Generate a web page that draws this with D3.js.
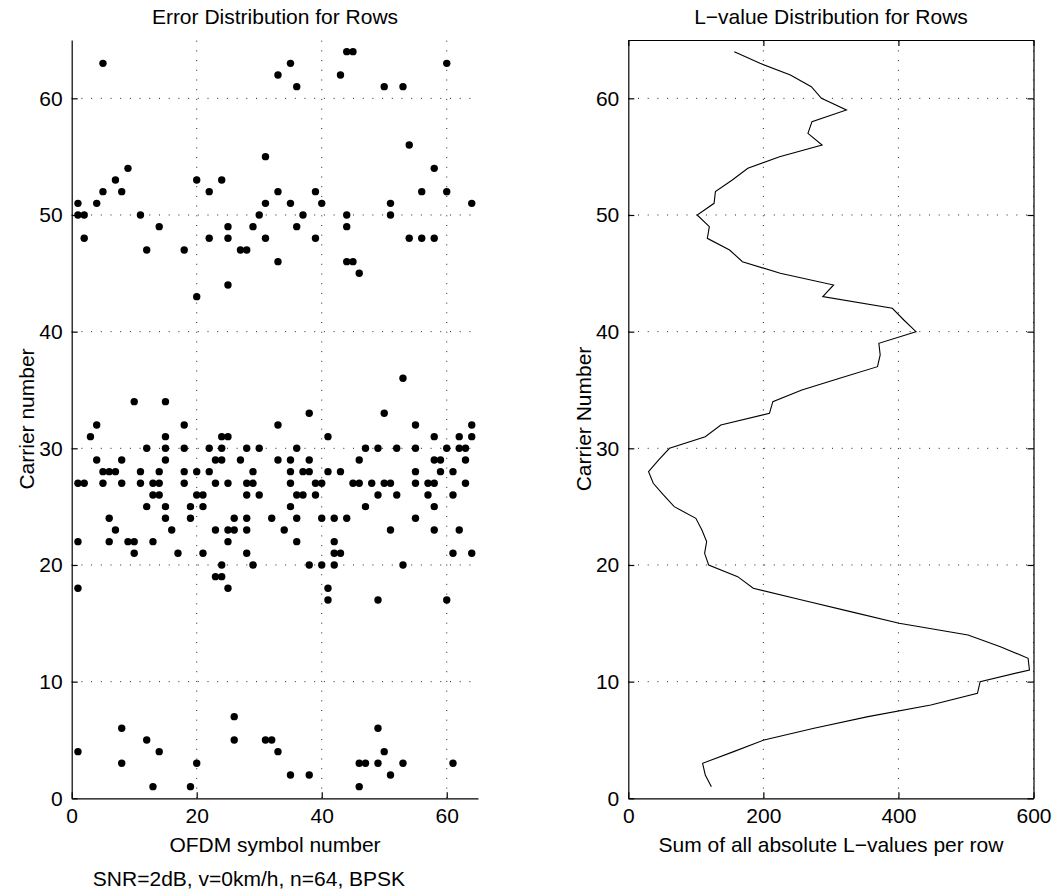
<!DOCTYPE html>
<html>
<head>
<meta charset="utf-8">
<script src="https://cdn.jsdelivr.net/npm/d3@7"></script>
<style>
  body { margin: 0; background: #fff; }
  text { font-family: "Liberation Sans", Arial, Helvetica, sans-serif; fill: #000; }
  .grid line { stroke: #222; stroke-width: 1; stroke-dasharray: 1,8.7; }
  .axis path, .axis line { stroke: #000; stroke-width: 1.2; }
</style>
</head>
<body>
<div id="chart"></div>
<script>
// Errors: [OFDM symbol number, carrier number]
var errorPoints = [
  [5,63],[1,51],[1,50],[2,50],[2,48],[4,51],[5,52],[7,53],[8,52],[9,54],[11,50],[12,47],[14,49],[18,47],
  [20,53],[22,52],[22,48],[24,53],[25,49],[25,48],[27,47],[28,47],[29,49],[30,50],[31,51],[31,55],[31,48],
  [33,62],[33,52],[33,46],
  [44,64],[45,64],[35,63],[36,61],[43,62],[50,61],[53,61],[60,63],[54,56],[58,54],[39,52],[56,52],[60,52],
  [35,51],[40,51],[51,51],[64,51],[37,50],[44,50],[51,50],[36,49],[44,49],[39,48],[54,48],[56,48],[58,48],
  [44,46],[45,46],[46,45],[20,43],[25,44],
  [10,34],[15,34],[4,32],[18,32],[33,32],[3,31],[15,31],[24,31],[25,31],
  [12,30],[15,30],[18,30],[22,30],[24,30],[28,30],[30,30],
  [4,29],[8,29],[15,29],[23,29],[24,29],[27,29],[33,29],
  [5,28],[6,28],[7,28],[11,28],[14,28],[18,28],[20,28],[22,28],[29,28],
  [1,27],[2,27],[5,27],[8,27],[11,27],[13,27],[14,27],[18,27],[23,27],[25,27],[28,27],[29,27],
  [13,26],[14,26],[20,26],[21,26],[28,26],[30,26],
  [12,25],[15,25],[19,25],[21,25],
  [6,24],[15,24],[19,24],[26,24],[28,24],[32,24],
  [7,23],[16,23],[23,23],[25,23],[26,23],[28,23],
  [1,22],[6,22],[9,22],[10,22],[13,22],[25,22],
  [10,21],[17,21],[21,21],[28,21],[24,20],[29,20],[23,19],[24,19],
  [53,36],[38,33],[50,33],[55,32],[64,32],[41,31],[58,31],[62,31],[64,31],
  [36,30],[47,30],[49,30],[52,30],[55,30],[60,30],[62,30],[63,30],
  [35,29],[38,29],[46,29],[58,29],[59,29],[63,29],
  [35,28],[37,28],[38,28],[41,28],[43,28],[55,28],[59,28],[61,28],
  [35,27],[39,27],[40,27],[45,27],[46,27],[48,27],[50,27],[51,27],[55,27],[57,27],[58,27],[63,27],
  [36,26],[37,26],[39,26],[49,26],[52,26],[57,26],[61,26],
  [35,25],[47,25],[58,25],
  [36,24],[40,24],[42,24],[44,24],[55,24],
  [34,23],[51,23],[58,23],[62,23],
  [36,22],[42,22],[42,21],[43,21],[61,21],[64,21],
  [38,20],[40,20],[42,20],[53,20],
  [1,18],[25,18],[41,18],[41,17],[49,17],[60,17],
  [1,4],[8,6],[8,3],[12,5],[14,4],[13,1],[19,1],[20,3],[26,7],[26,5],[31,5],[32,5],[33,4],
  [35,2],[38,2],[46,3],[47,3],[49,6],[50,4],[49,3],[51,2],[53,3],[46,1],[61,3]
];

// Sum of absolute L-values, rows 1..64
var lRows = d3.range(1, 65);
var lSums = [
  123,114,110,156,201,275,355,448,517,521,594,592,551,503,401,329,
  257,185,162,119,113,116,109,100,68,52,37,30,45,61,114,137,
  209,214,257,313,369,373,371,426,408,391,288,304,225,169,150,117,
  120,102,127,129,154,177,224,287,266,272,323,286,271,240,195,157
];

var symbolTicks = [0, 20, 40, 60];
var sumTicks = [0, 200, 400, 600];
var carrierTicks = [0, 10, 20, 30, 40, 50, 60];

var W = 1056, H = 894;
var plotTop = 40, plotBottom = 798.3;
var fs = "21px";

var svg = d3.select("#chart").append("svg")
    .attr("width", W)
    .attr("height", H)
    .style("background", "#fff");

// Scales
var xL = d3.scaleLinear().domain([0, 65]).range([71.7, 478]);
var xR = d3.scaleLinear().domain([0, 600]).range([628.3, 1033.5]);
var y = d3.scaleLinear().domain([0, 65]).range([plotBottom, plotTop]);

function grid(g, x, xt) {
  var gg = g.append("g").attr("class", "grid");
  gg.selectAll(".gx").data(xt.filter(function(d) { return d > 0; }))
    .enter().append("line")
      .attr("x1", function(d) { return x(d); }).attr("x2", function(d) { return x(d); })
      .attr("y1", plotBottom).attr("y2", plotTop);
  gg.selectAll(".gy").data(carrierTicks.filter(function(d) { return d > 0; }))
    .enter().append("line")
      .attr("x1", x.range()[0]).attr("x2", x.range()[1])
      .attr("y1", function(d) { return y(d); }).attr("y2", function(d) { return y(d); });
}

function axes(g, x, xt, box) {
  g.append("g")
    .attr("class", "axis")
    .attr("transform", "translate(0," + plotBottom + ")")
    .call(d3.axisBottom(x).tickValues(xt).tickSizeInner(-6).tickSizeOuter(0).tickPadding(10))
    .call(function(a) { a.selectAll("text").style("font-size", fs); });
  g.append("g")
    .attr("class", "axis")
    .attr("transform", "translate(" + x.range()[0] + ",0)")
    .call(d3.axisLeft(y).tickValues(carrierTicks).tickSizeInner(-6).tickSizeOuter(0).tickPadding(9))
    .call(function(a) { a.selectAll("text").style("font-size", fs); });
  if (box) {
    g.append("g")
      .attr("class", "axis")
      .attr("transform", "translate(0," + plotTop + ")")
      .call(d3.axisTop(x).tickValues(xt).tickSizeInner(-6).tickSizeOuter(0).tickFormat(""));
    g.append("g")
      .attr("class", "axis")
      .attr("transform", "translate(" + x.range()[1] + ",0)")
      .call(d3.axisRight(y).tickValues(carrierTicks).tickSizeInner(-6).tickSizeOuter(0).tickFormat(""));
  }
  g.selectAll(".axis .tick text").attr("fill", "#000");
}

// Left: error scatter
var gL = svg.append("g");
grid(gL, xL, symbolTicks);
axes(gL, xL, symbolTicks, false);

gL.selectAll(".dot")
  .data(errorPoints)
  .enter().append("circle")
    .attr("class", "dot")
    .attr("cx", function(d) { return xL(d[0]); })
    .attr("cy", function(d) { return y(d[1]); })
    .attr("r", 3.7)
    .attr("fill", "#000");

// Right: L-value line
var gR = svg.append("g");
grid(gR, xR, sumTicks);
axes(gR, xR, sumTicks, true);

var line = d3.line()
    .x(function(d, i) { return xR(lSums[i]); })
    .y(function(d) { return y(d); });

gR.append("path")
    .datum(lRows)
    .attr("d", line)
    .attr("fill", "none")
    .attr("stroke", "#000")
    .attr("stroke-width", 1.1);

// Titles and labels
function label(txt, x, yy, rot) {
  var t = svg.append("text")
    .attr("text-anchor", "middle")
    .style("font-size", fs)
    .text(txt);
  if (rot) t.attr("transform", "translate(" + x + "," + yy + ")rotate(-90)");
  else t.attr("x", x).attr("y", yy);
}

label("Error Distribution for Rows", 275, 24);
label("L\u2212value Distribution for Rows", 831, 24);
label("OFDM symbol number", 275, 852);
label("Sum of all absolute L\u2212values per row", 831, 852);
label("SNR=2dB, v=0km/h, n=64, BPSK", 249, 886);
label("Carrier number", 34, 419, true);
label("Carrier Number", 591, 419, true);
</script>
</body>
</html>
